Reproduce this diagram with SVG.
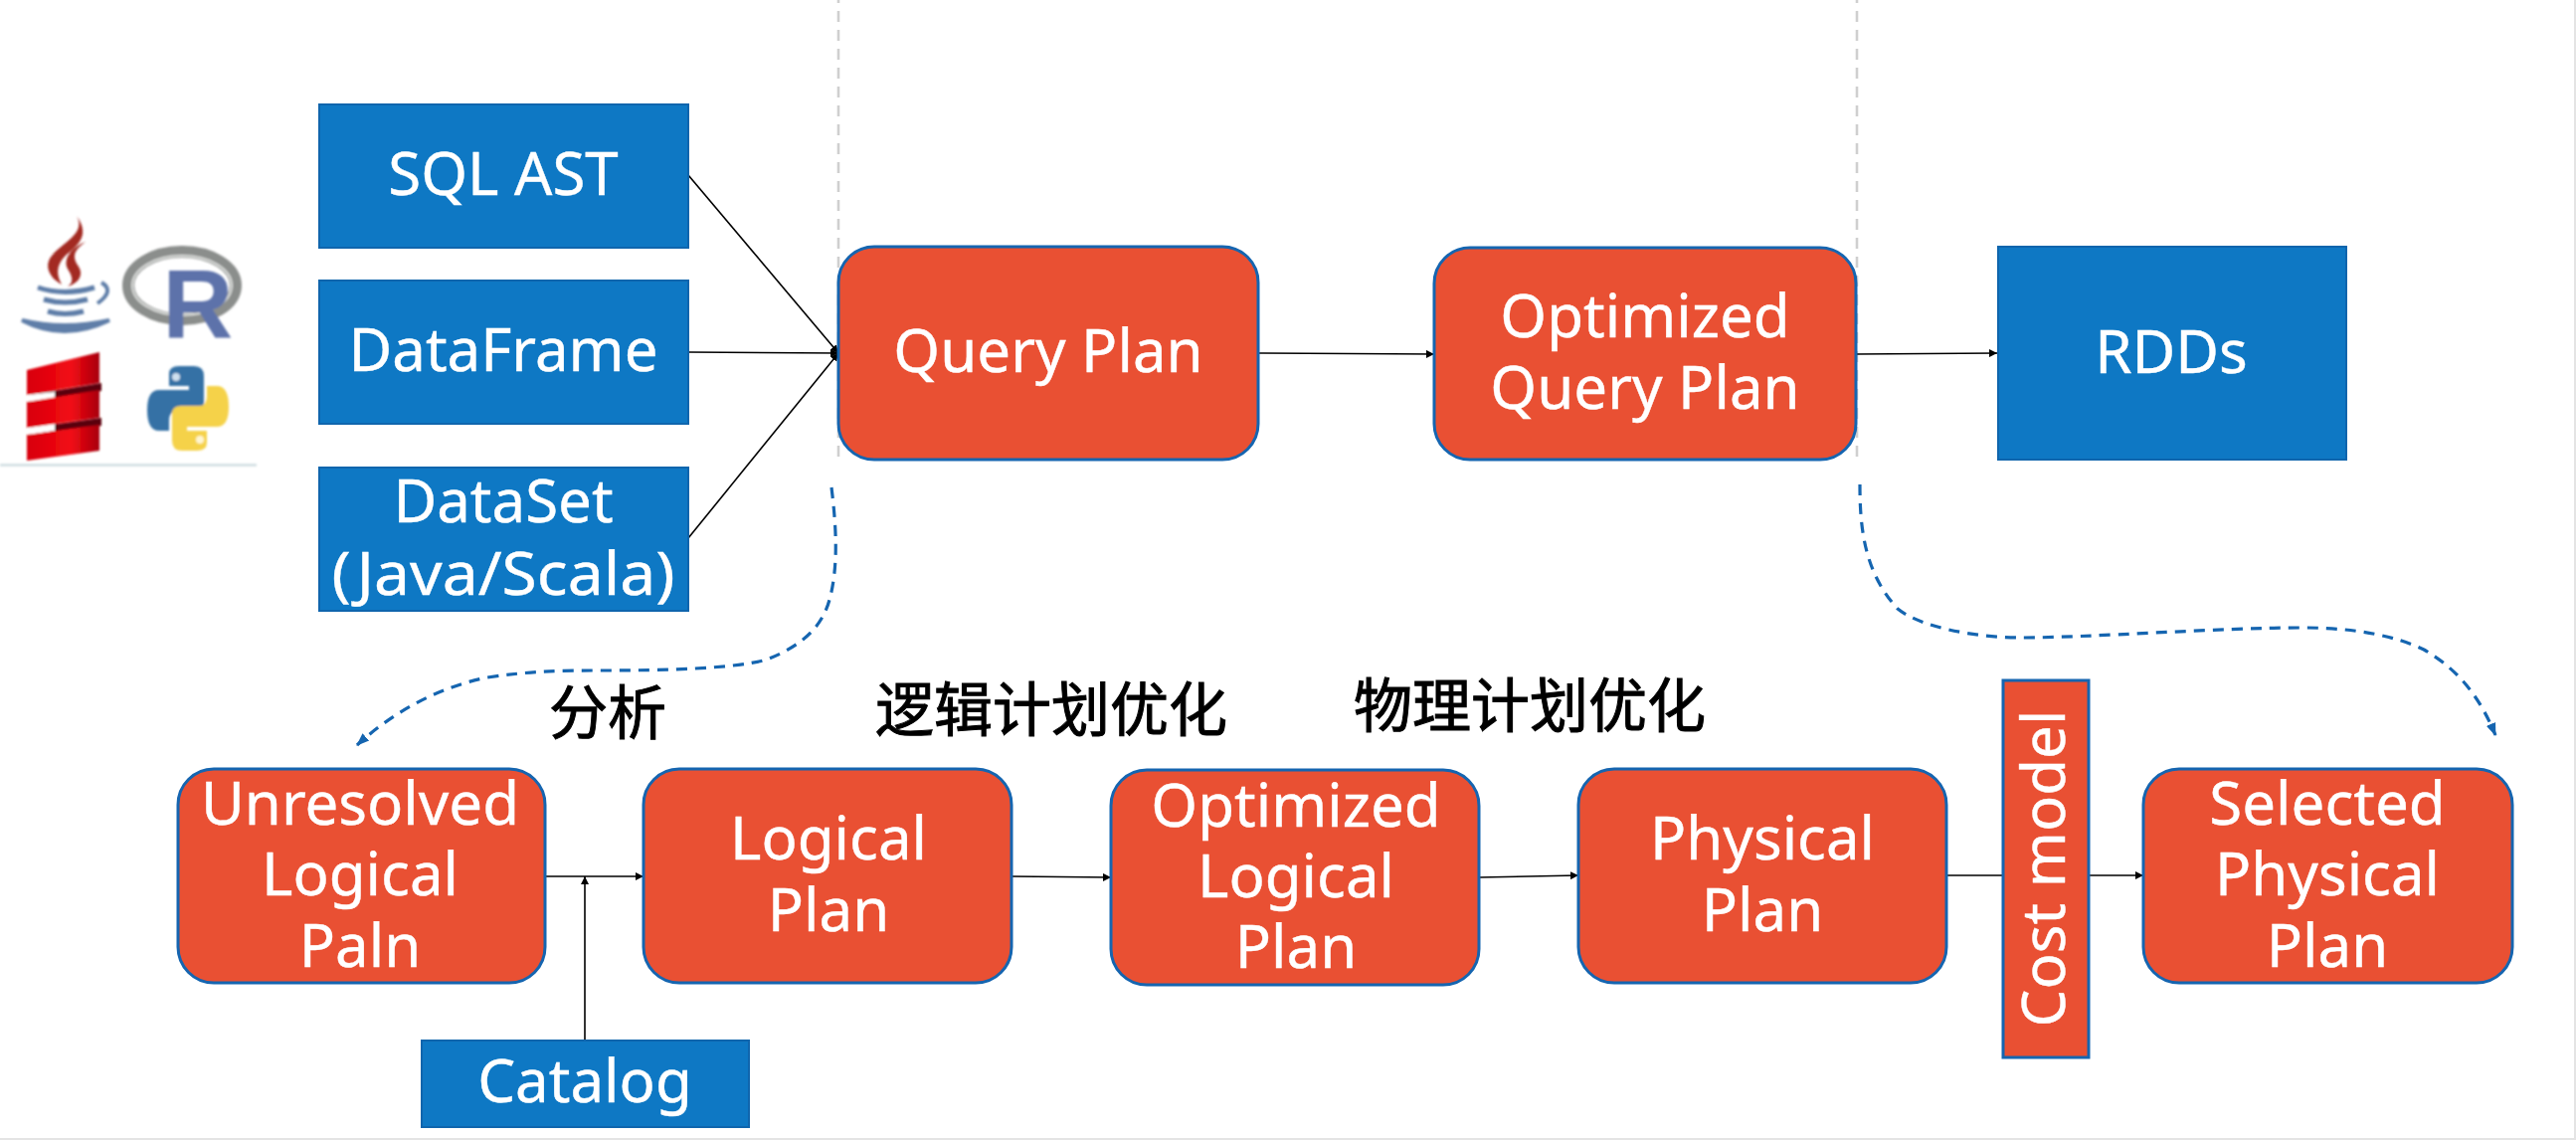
<svg xmlns="http://www.w3.org/2000/svg" width="2590" height="1146" viewBox="0 0 2590 1146">
<style>
text{font-family:"Noto Sans","Noto Sans CJK SC",sans-serif}
.t{fill:#fff;font-size:60px;text-anchor:middle;stroke:#fff;stroke-width:.4}
.c{fill:#000;font-family:"Noto Sans CJK SC","Noto Sans",sans-serif;font-size:59px;stroke:#000;stroke-width:1}
.b{fill:#0e78c4;stroke:#0f65ad;stroke-width:2}
.r{fill:#e95033;stroke:#1565b0;stroke-width:3}
.l{stroke:#000;stroke-width:1.6;fill:none;marker-end:url(#a)}
.d{stroke:#cfcfcf;stroke-width:2.6;stroke-dasharray:11 8;stroke-dashoffset:8;fill:none}
.f{stroke:#1565b0;stroke-width:3.2;stroke-dasharray:11 8;fill:none;marker-end:url(#f)}
</style>
<defs>
<marker id="a" markerWidth="8" markerHeight="8" refX="8" refY="4" orient="auto" markerUnits="userSpaceOnUse"><path d="M0 0L8 4L0 8Z" fill="#000"/></marker>
<marker id="f" markerWidth="14" markerHeight="12" refX="12" refY="6" orient="auto" markerUnits="userSpaceOnUse"><path d="M0 1L13 6L0 11Z" fill="#1565b0"/></marker>
<linearGradient id="s" x1="0" x2="1" y1="0" y2="0"><stop offset="0" stop-color="#d8000a"/><stop offset=".6" stop-color="#f20a14"/><stop offset="1" stop-color="#a8000c"/></linearGradient>
<filter id="bl" x="-5%" y="-5%" width="110%" height="110%"><feGaussianBlur stdDeviation="1"/></filter>
</defs>
<rect width="2590" height="1146" fill="#fff"/>
<path d="M0 1145H2590M2589 0V1146" stroke="#e4e4e4" stroke-width="2" fill="none"/>
<g id="dividers">
<path class="d" d="M843 0V465"/>
<path class="d" d="M1867 0V465"/>
</g>
<g id="logos" filter="url(#bl)">
<g fill="#a32a24">
<path d="M77 217C88 236 58 246 50 260C44 272 54 282 62 286C54 272 60 262 68 255C84 243 88 232 77 217Z"/>
<path d="M86 243C70 250 62 262 69 272C74 280 73 285 68 288C80 284 84 276 79 268C72 258 74 252 86 243Z"/>
</g>
<g fill="none" stroke="#5f7ea8">
<path d="M38 289Q65 298 95 289" stroke-width="5"/>
<path d="M102 284Q116 292 98 305" stroke-width="4"/>
<path d="M44 301Q65 307 88 301" stroke-width="5"/>
<path d="M48 313Q65 318 84 313" stroke-width="5"/>
<path d="M22 322Q64 344 110 322Q64 332 22 322Z" fill="#5f7ea8" stroke-width="4"/>
</g>
<ellipse cx="183" cy="287" rx="54" ry="34" fill="none" stroke="#8b8e8c" stroke-width="12"/>
<ellipse cx="183" cy="287" rx="50" ry="30" fill="none" stroke="#dcdedc" stroke-width="2"/>
<text x="199" y="340" font-size="98" font-weight="700" text-anchor="middle" style="font-family:'Liberation Sans',sans-serif" fill="#5d72aa">R</text>
<path d="M29 397L102 385V393L29 404ZM29 430L102 420V428L29 437Z" fill="#5a0008"/>
<path d="M29 397V404L55 400V394ZM29 430V437L55 433V426Z" fill="#fff"/>
<g fill="url(#s)">
<path d="M27 372L100 354V385L27 397Z"/>
<path d="M27 404L100 392V420L27 430Z"/>
<path d="M27 437L100 427V453L27 463Z"/>
</g>
<path d="M170 376Q170 368 180 368L195 368Q205 368 205 378L205 405Q205 413 196 413L178 413Q170 413 170 423L170 433L160 433Q148 433 148 412Q148 392 160 392L190 392L190 388L170 388Z" fill="#3471a5"/>
<path d="M170 376Q170 368 180 368L195 368Q205 368 205 378L205 405Q205 413 196 413L178 413Q170 413 170 423L170 433L160 433Q148 433 148 412Q148 392 160 392L190 392L190 388L170 388Z" fill="#f5d24a" transform="rotate(180 189 410.5)"/>
<circle cx="177" cy="379" r="4" fill="#cfe0ee"/>
<circle cx="201" cy="442" r="4" fill="#fff6d0"/>
<path d="M0 467.500H258" stroke="#c3d5da" stroke-width="2"/>
</g>
<g id="connectors">
<path class="l" d="M692 176L843 355"/>
<path class="l" d="M692 354L843 355"/>
<path class="l" d="M692 541L843 355"/>
<path class="l" d="M1265 355L1442 356"/>
<path class="l" d="M1866 356L2008 355"/>
<path class="l" d="M548 881L647 881"/>
<path class="l" d="M588 1045L588 881"/>
<path class="l" d="M1017 881L1117 882"/>
<path class="l" d="M1487 882L1587 880"/>
<path class="l" d="M1957 880L2155 880"/>
<path class="f" d="M836 490C841 530 843 570 834 603C826 632 804 650 771 663C740 672 670 674 605 674C560 674 530 675 490 681C440 691 395 716 359 749"/>
<path class="f" d="M1870 487C1870 530 1874 575 1908 612C1930 630 1985 641 2033 641C2100 641 2230 631 2315 631C2370 631 2410 640 2437 653C2475 675 2495 705 2509 739"/>
</g>
<g id="sql-ast"><rect class="b" x="321" y="105" width="371" height="144"/><text class="t" x="506" y="196">SQL AST</text></g>
<g id="dataframe"><rect class="b" x="321" y="282" width="371" height="144"/><text class="t" x="506" y="373" textLength="311" lengthAdjust="spacingAndGlyphs">DataFrame</text></g>
<g id="dataset"><rect class="b" x="321" y="470" width="371" height="144"/><text class="t" x="506" y="525">DataSet</text><text class="t" x="506" y="598" textLength="345" lengthAdjust="spacingAndGlyphs">(Java/Scala)</text></g>
<g id="query-plan"><rect class="r" x="843" y="248" width="422" height="214" rx="36"/><text class="t" x="1054" y="374">Query Plan</text></g>
<g id="optimized-query-plan"><rect class="r" x="1442" y="249" width="424" height="213" rx="36"/><text class="t" x="1654" y="339">Optimized</text><text class="t" x="1654" y="411">Query Plan</text></g>
<g id="rdds"><rect class="b" x="2009" y="248" width="350" height="214"/><text class="t" x="2183" y="375">RDDs</text></g>
<g id="unresolved-logical-plan"><rect class="r" x="179" y="773" width="369" height="215" rx="36"/><text class="t" x="362" y="829">Unresolved</text><text class="t" x="362" y="900">Logical</text><text class="t" x="362" y="972">Paln</text></g>
<g id="logical-plan"><rect class="r" x="647" y="773" width="370" height="215" rx="36"/><text class="t" x="833" y="864">Logical</text><text class="t" x="833" y="936">Plan</text></g>
<g id="optimized-logical-plan"><rect class="r" x="1117" y="774" width="370" height="216" rx="36"/><text class="t" x="1303" y="831">Optimized</text><text class="t" x="1303" y="902">Logical</text><text class="t" x="1303" y="973">Plan</text></g>
<g id="physical-plan"><rect class="r" x="1587" y="773" width="370" height="215" rx="36"/><text class="t" x="1772" y="864">Physical</text><text class="t" x="1772" y="936">Plan</text></g>
<g id="cost-model"><rect class="r" x="2014" y="684" width="86" height="379"/><text class="t" transform="translate(2076 873) rotate(-90)">Cost model</text></g>
<g id="selected-physical-plan"><rect class="r" x="2155" y="773" width="371" height="215" rx="36"/><text class="t" x="2340" y="829">Selected</text><text class="t" x="2340" y="900">Physical</text><text class="t" x="2340" y="972">Plan</text></g>
<g id="catalog"><rect class="b" x="424" y="1046" width="329" height="87"/><text class="t" x="588" y="1108">Catalog</text></g>
<g id="labels">
<text class="c" x="552" y="738">分析</text>
<text class="c" x="880" y="735">逻辑计划优化</text>
<text class="c" x="1361" y="731">物理计划优化</text>
</g>
</svg>
